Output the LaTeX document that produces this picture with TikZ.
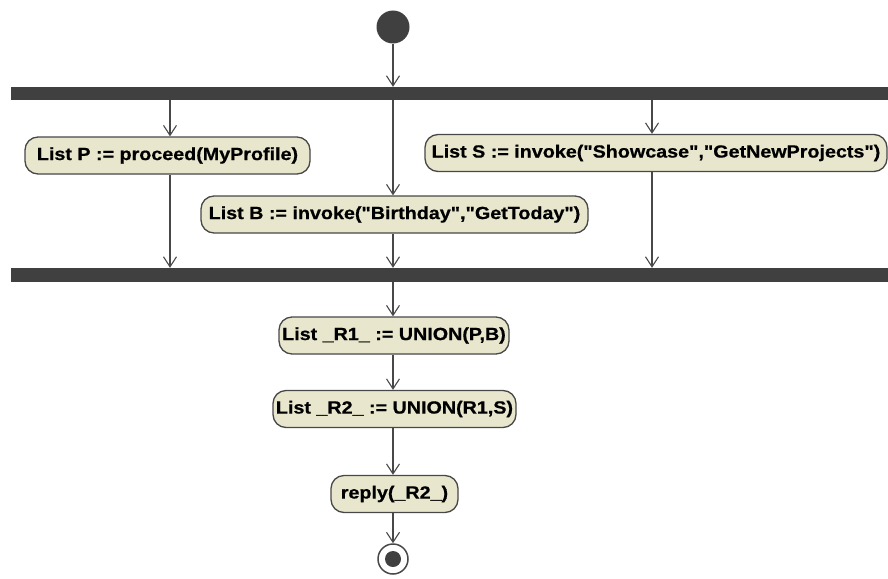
\documentclass[tikz,border=0pt]{standalone}
\usepackage{fontspec}
\newfontfamily\actfont[FakeStretch=1.12, FakeBold=0.6]{Liberation Sans Bold}
\usetikzlibrary{arrows.meta}
\definecolor{actfill}{RGB}{232,230,204}
\definecolor{ink}{RGB}{72,72,72}
\definecolor{barink}{RGB}{64,64,64}
\tikzset{
  flow/.style={draw=ink, line width=1.2pt, -{Straight Barb[length=10pt,width=13pt,line width=1.1pt]}},
  action/.style={draw=ink, line width=1.3pt, fill=actfill, rounded corners=13pt,
    minimum height=37pt, inner sep=0pt, font=\fontsize{17.6}{20}\actfont},
  syncbar/.style={fill=barink, draw=none, minimum height=13pt, minimum width=877pt, inner sep=0pt},
  startnode/.style={circle, fill=barink, draw=none, minimum size=33pt, inner sep=0pt},
}
\begin{document}
\begin{tikzpicture}[x=1pt, y=-1pt]
\useasboundingbox (0,0) rectangle (888,578);
% initial node and fork bar
\node[startnode] (start) at (393,27) {};
\node[syncbar] (fork) at (449.5,93.5) {};
% parallel actions
\node[action, minimum width=285pt] (P) at (167.5,155.5) {List P := proceed(MyProfile)};
\node[action, minimum width=387pt] (B) at (394.5,214.5) {List B := invoke("Birthday","GetToday")};
\node[action, minimum width=462pt] (S) at (656,153) {List S := invoke("Showcase","GetNewProjects")};
% join bar
\node[syncbar, minimum height=14pt] (join) at (449.5,275) {};
% sequential actions
\node[action, minimum width=230pt] (R1) at (394,335.5) {List \_R1\_ := UNION(P,B)};
\node[action, minimum width=243pt] (R2) at (394.5,409) {List \_R2\_ := UNION(R1,S)};
\node[action, minimum width=127pt] (reply) at (394.5,494) {reply(\_R2\_)};
% final node
\node[circle, draw=ink, line width=1.5pt, fill=white, minimum size=30pt, inner sep=0pt] (final) at (393,559) {};
\fill[barink] (final.center) circle (8pt);
% connectors
\coordinate (pfork) at (170,0);
\coordinate (bfork) at (393,0);
\coordinate (sfork) at (652,0);
\draw[flow] (start) -- (start |- fork.north);
\draw[flow] (pfork |- fork.south) -- (pfork |- P.north);
\draw[flow] (bfork |- fork.south) -- (bfork |- B.north);
\draw[flow] (sfork |- fork.south) -- (sfork |- S.north);
\draw[flow] (pfork |- P.south) -- (pfork |- join.north);
\draw[flow] (bfork |- B.south) -- (bfork |- join.north);
\draw[flow] (sfork |- S.south) -- (sfork |- join.north);
\draw[flow] (bfork |- join.south) -- (bfork |- R1.north);
\draw[flow] (bfork |- R1.south) -- (bfork |- R2.north);
\draw[flow] (bfork |- R2.south) -- (bfork |- reply.north);
\draw[flow] (bfork |- reply.south) -- (final);
\end{tikzpicture}
\end{document}
